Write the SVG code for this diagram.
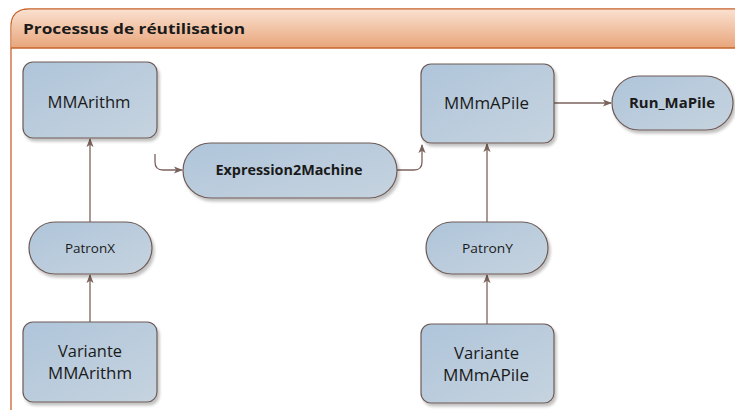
<svg xmlns="http://www.w3.org/2000/svg" width="735" height="410" viewBox="0 0 735 410">
  <defs>
    <linearGradient id="hdr" x1="0" y1="0" x2="0" y2="1">
      <stop offset="0" stop-color="#fae0cf"/>
      <stop offset="1" stop-color="#e8a57b"/>
    </linearGradient>
    <linearGradient id="node" x1="0" y1="0" x2="1" y2="1">
      <stop offset="0" stop-color="#afc5da"/>
      <stop offset="1" stop-color="#c6d3df"/>
    </linearGradient>
    <filter id="shadow" x="-10%" y="-10%" width="130%" height="140%">
      <feGaussianBlur in="SourceAlpha" stdDeviation="1.5"/>
      <feOffset dx="2" dy="3" result="b"/>
      <feComponentTransfer><feFuncA type="linear" slope="0.25"/></feComponentTransfer>
      <feMerge><feMergeNode/><feMergeNode in="SourceGraphic"/></feMerge>
    </filter>
    <marker id="arrow" viewBox="0 0 10 10" refX="9" refY="5" markerWidth="9" markerHeight="9" markerUnits="userSpaceOnUse" orient="auto">
      <path d="M0,1 L10,5 L0,9 L2.5,5 Z" fill="#7a635c"/>
    </marker>
    <style>
      .box { fill: url(#node); stroke: #6e5a55; stroke-width: 1.2; filter: url(#shadow); }
      .lbl { font-family: "Open Sans", "Liberation Sans", sans-serif; fill: #1a1a1a; text-anchor: middle; }
      .big { font-size: 15.5px; }
      .bold { font-size: 13.5px; font-weight: bold; }
      .small { font-size: 12px; }
      .conn { fill: none; stroke: #7a635c; stroke-width: 1.3; marker-end: url(#arrow); }
    </style>
  </defs>

  <!-- swimlane frame -->
  <g id="frame">
    <path d="M11,430 L11,27 Q11,9 29,9 L745,9" fill="#ffffff" stroke="#c8632a" stroke-width="1.3"/>
    <path d="M11.7,48 L11.7,27 Q11.7,9.7 29,9.7 L745,9.7 L745,48 Z" fill="url(#hdr)"/>
    <line x1="11" y1="48" x2="745" y2="48" stroke="#c8632a" stroke-width="1.3"/>
    <text x="23" y="33.5" font-family="'Open Sans', 'Liberation Sans', sans-serif" font-size="14.5" font-weight="bold" fill="#1a1a1a" textLength="222" lengthAdjust="spacingAndGlyphs">Processus de réutilisation</text>
  </g>

  <!-- connectors -->
  <g id="connectors">
    <path class="conn" d="M90,222 L90,139"/>
    <path class="conn" d="M90,322 L90,275"/>
    <path class="conn" d="M155,154 L155,162 Q155,170 163,170 L182,170"/>
    <path class="conn" d="M397,170 L414,170 Q422,170 422,162 L422,145"/>
    <path class="conn" d="M487,226 L487,144"/>
    <path class="conn" d="M487,324 L487,275"/>
    <path class="conn" d="M554,103 L611,103"/>
  </g>

  <g id="MMArithm">
    <rect class="box" x="23" y="62" width="134" height="76" rx="10"/>
    <text class="lbl big" x="89" y="108" textLength="83" lengthAdjust="spacingAndGlyphs">MMArithm</text>
  </g>

  <g id="Expression2Machine">
    <rect class="box" x="183" y="143" width="214" height="55" rx="27.5"/>
    <text class="lbl bold" x="289" y="175" textLength="147" lengthAdjust="spacingAndGlyphs">Expression2Machine</text>
  </g>

  <g id="MMmAPile">
    <rect class="box" x="421" y="64" width="133" height="79" rx="10"/>
    <text class="lbl big" x="486.5" y="109" textLength="85" lengthAdjust="spacingAndGlyphs">MMmAPile</text>
  </g>

  <g id="Run_MaPile">
    <rect class="box" x="612" y="76" width="121" height="54" rx="27"/>
    <text class="lbl bold" x="672" y="108" textLength="86" lengthAdjust="spacingAndGlyphs">Run_MaPile</text>
  </g>

  <g id="PatronX">
    <rect class="box" x="29" y="222" width="123" height="52" rx="26"/>
    <text class="lbl small" x="90" y="252.5" textLength="50" lengthAdjust="spacingAndGlyphs">PatronX</text>
  </g>

  <g id="PatronY">
    <rect class="box" x="426" y="222" width="122" height="52" rx="26"/>
    <text class="lbl small" x="487.5" y="252.5" textLength="51" lengthAdjust="spacingAndGlyphs">PatronY</text>
  </g>

  <g id="VarianteMMArithm">
    <rect class="box" x="23" y="322" width="134" height="80" rx="10"/>
    <text class="lbl big" x="90" y="357" textLength="64" lengthAdjust="spacingAndGlyphs">Variante</text>
    <text class="lbl big" x="90" y="378.5" textLength="84" lengthAdjust="spacingAndGlyphs">MMArithm</text>
  </g>

  <g id="VarianteMMmAPile">
    <rect class="box" x="421" y="324" width="133" height="79" rx="10"/>
    <text class="lbl big" x="486.5" y="359" textLength="65" lengthAdjust="spacingAndGlyphs">Variante</text>
    <text class="lbl big" x="486" y="381" textLength="86" lengthAdjust="spacingAndGlyphs">MMmAPile</text>
  </g>
</svg>
